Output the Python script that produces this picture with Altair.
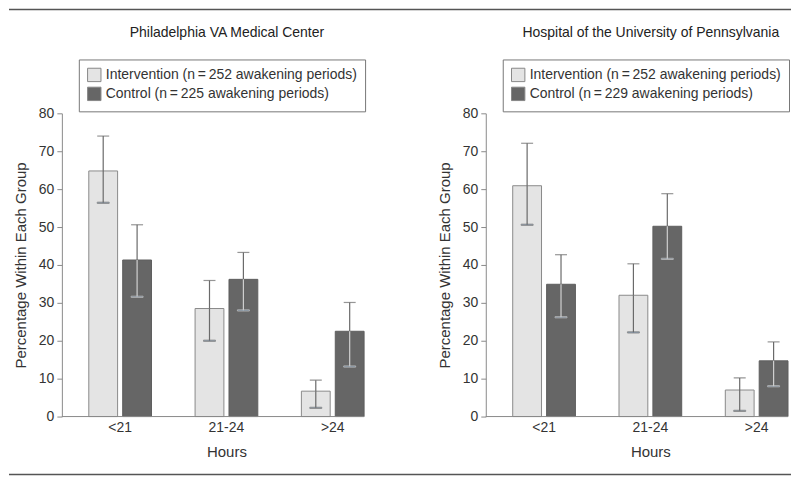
import altair as alt
import pandas as pd

groups = ["<21", "21-24", ">24"]

va_title = "Philadelphia VA Medical Center"
va_series = ["Intervention (n\u2009=\u2009252 awakening periods)", "Control (n\u2009=\u2009225 awakening periods)"]
va_int = [64.8, 28.5, 6.7]
va_int_lo = [56.4, 20.0, 2.3]
va_int_hi = [74.0, 35.9, 9.6]
va_ctl = [41.3, 36.2, 22.5]
va_ctl_lo = [31.6, 28.0, 13.2]
va_ctl_hi = [50.6, 43.3, 30.1]

hup_title = "Hospital of the University of Pennsylvania"
hup_series = ["Intervention (n\u2009=\u2009252 awakening periods)", "Control (n\u2009=\u2009229 awakening periods)"]
hup_int = [60.9, 32.0, 7.0]
hup_int_lo = [50.6, 22.2, 1.5]
hup_int_hi = [72.1, 40.3, 10.2]
hup_ctl = [34.9, 50.2, 14.7]
hup_ctl_lo = [26.2, 41.6, 8.0]
hup_ctl_hi = [42.7, 58.8, 19.7]

FONT = "Liberation Sans"
TXT = "#333333"
AX = "#8a8a8a"


def make_df(series, iv, ilo, ihi, cv, clo, chi):
    rows = []
    for i, g in enumerate(groups):
        rows.append(dict(hours=g, series=series[0], value=iv[i], lo=ilo[i], hi=ihi[i]))
        rows.append(dict(hours=g, series=series[1], value=cv[i], lo=clo[i], hi=chi[i]))
    return pd.DataFrame(rows)


def panel(title, series, df, first):
    base = alt.Chart(df)
    x = alt.X("hours:N", sort=groups,
              scale=alt.Scale(range=[27, 303], paddingInner=0.41, paddingOuter=0),
              axis=alt.Axis(title="Hours", labelAngle=0, ticks=False, domain=False,
                            labelPadding=4, titlePadding=10, labelFontSize=14,
                            titleFontSize=15, titleFontWeight="normal",
                            labelColor=TXT, titleColor=TXT, labelFont=FONT, titleFont=FONT))
    xo = alt.XOffset("series:N", sort=series, scale=alt.Scale(domain=series, paddingInner=0.15, paddingOuter=0))
    yscale = alt.Scale(domain=[0, 80], nice=False)
    yaxis = alt.Axis(values=list(range(0, 81, 10)), title="Percentage Within Each Group",
                     grid=False, tickSize=5, labelPadding=3, titlePadding=10,
                     labelOverlap=False,
                     labelFontSize=14, titleFontSize=15, titleFontWeight="normal",
                     domainColor=AX, tickColor=AX, labelColor=TXT, titleColor=TXT,
                     labelFont=FONT, titleFont=FONT)

    def Y(f):
        return alt.Y(f, scale=yscale, axis=yaxis)

    bars = base.mark_bar(strokeWidth=1).encode(
        x=x, xOffset=xo, y=Y("value:Q"),
        color=alt.Color("series:N", scale=alt.Scale(domain=series, range=["#e4e4e4", "#666666"]),
                        legend=alt.Legend(orient="none", legendX=17, legendY=-54, title=None,
                                          labelFontSize=14, labelFont=FONT, labelColor=TXT,
                                          symbolType="square", symbolSize=180,
                                          symbolStrokeColor="#888888", symbolStrokeWidth=1,
                                          rowPadding=0, padding=8, strokeColor="#777777",
                                          fillColor="white", labelLimit=500, labelOffset=4)),
        stroke=alt.Stroke("series:N", scale=alt.Scale(domain=series, range=["#8a8a8a", "#5e5e5e"]), legend=None),
    )
    upper = base.mark_rule(strokeWidth=1.2, color="#6a6a6a").encode(
        x=x, xOffset=xo, y=Y("value:Q"), y2="hi:Q")
    upper_cap = base.mark_tick(thickness=1.2, size=12, color="#6a6a6a").encode(
        x=x, xOffset=xo, y=Y("hi:Q"))
    lstroke = alt.Stroke("series:N", scale=alt.Scale(domain=series, range=["#6a6a6a", "#d0d0d0"]), legend=None)
    lower = base.mark_rule(strokeWidth=1.2).encode(
        x=x, xOffset=xo, y=Y("lo:Q"), y2="value:Q", stroke=lstroke)
    lower_cap = base.mark_tick(thickness=1.2, size=12).encode(
        x=x, xOffset=xo, y=Y("lo:Q"), stroke=lstroke)
    one = pd.DataFrame({"v": [0], "t": [title]})
    baseline = alt.Chart(one).mark_rule(color=AX, strokeWidth=1).encode(
        y=Y("v:Q"), x=alt.value(0), x2=alt.value(303))
    ttl = alt.Chart(one).mark_text(fontSize=14, font=FONT, color="#222222", align="center",
                                   baseline="middle").encode(
        text="t:N", x=alt.value(165.5), y=alt.value(-81))
    layers = [bars, upper, upper_cap, lower, lower_cap, baseline, ttl]
    if first:
        top = alt.Chart(one).mark_rule(color="#555555", strokeWidth=1.5).encode(
            x=alt.value(-53), x2=alt.value(731), y=alt.value(-104))
        bot = alt.Chart(one).mark_rule(color="#555555", strokeWidth=1.5).encode(
            x=alt.value(-53), x2=alt.value(731), y=alt.value(362))
        layers += [top, bot]
    return alt.layer(*layers).resolve_scale(stroke="independent").properties(width=303, height=304)


left = panel(va_title, va_series,
             make_df(va_series, va_int, va_int_lo, va_int_hi, va_ctl, va_ctl_lo, va_ctl_hi), True)
right = panel(hup_title, hup_series,
              make_df(hup_series, hup_int, hup_int_lo, hup_int_hi, hup_ctl, hup_ctl_lo, hup_ctl_hi), False)

chart = alt.hconcat(left, right, spacing=122, bounds="flush").resolve_scale(
    color="independent", x="independent", y="independent", xOffset="independent"
).properties(padding=0).configure(font=FONT).configure_view(stroke=None)

chart.save("out.html", embed_options={"renderer": "svg", "actions": False})
